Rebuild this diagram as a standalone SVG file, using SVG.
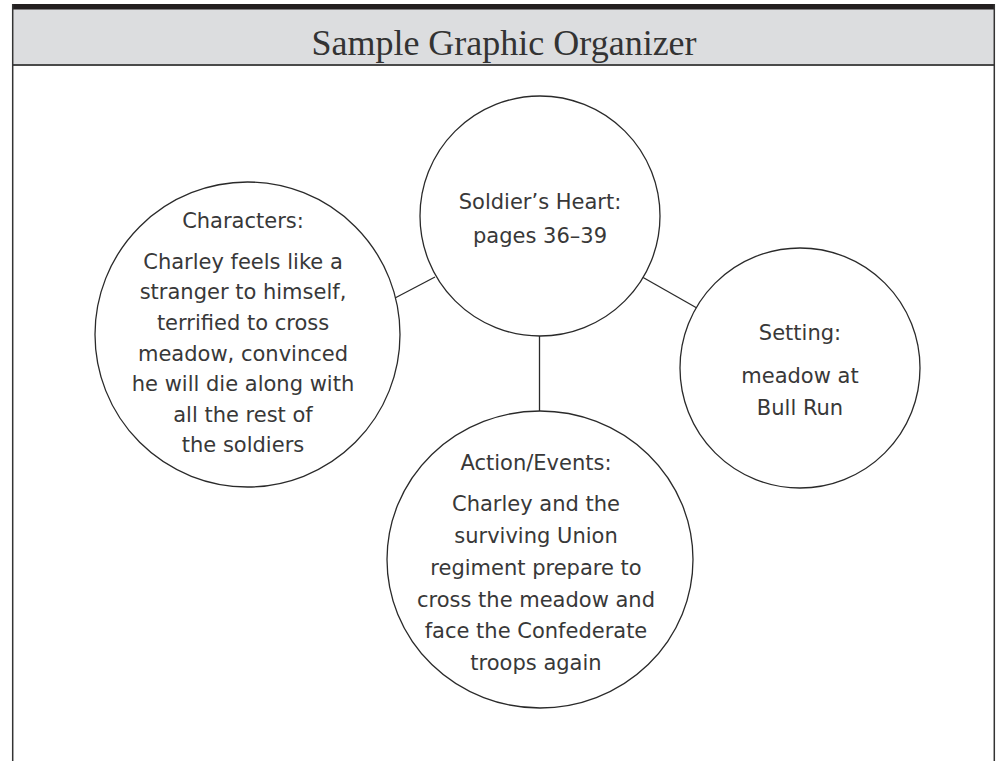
<svg xmlns="http://www.w3.org/2000/svg" width="998" height="761" viewBox="0 0 998 761">
  <style>
    .node { fill: #ffffff; stroke: #2a2a2a; stroke-width: 1.3; }
    .conn { stroke: #2a2a2a; stroke-width: 1.3; fill: none; }
    .txt { font-family: "DejaVu Sans", "Open Sans", sans-serif; font-size: 21px; fill: #383838; text-anchor: middle; }
    .title { font-family: "Liberation Serif", "Times New Roman", serif; font-size: 36px; fill: #333333; text-anchor: middle; }
  </style>
  <rect x="0" y="0" width="998" height="761" fill="#ffffff"/>
  <g id="frame">
    <rect x="12" y="9" width="983" height="56" fill="#dcdddf"/>
    <rect x="12" y="4" width="983" height="5.5" fill="#231f20"/>
    <line x1="12" y1="65" x2="995" y2="65" stroke="#4a4a4a" stroke-width="1.8"/>
    <line x1="12.7" y1="4" x2="12.7" y2="761" stroke="#333333" stroke-width="1.5"/>
    <line x1="994.3" y1="4" x2="994.3" y2="761" stroke="#333333" stroke-width="1.5"/>
    <text class="title" x="504" y="55">Sample Graphic Organizer</text>
  </g>
  <g id="connectors">
    <line class="conn" x1="395" y1="298" x2="435" y2="277"/>
    <line class="conn" x1="642.7" y1="277.3" x2="697.3" y2="308.3"/>
    <line class="conn" x1="539.5" y1="336" x2="539.5" y2="411"/>
  </g>
  <g id="center">
    <circle class="node" cx="540" cy="216" r="120"/>
    <text class="txt" x="540" y="209">Soldier’s Heart:</text>
    <text class="txt" x="540" y="243">pages 36–39</text>
  </g>
  <g id="characters">
    <circle class="node" cx="247.5" cy="334.5" r="152.5"/>
    <text class="txt" x="243" y="228">Characters:</text>
    <text class="txt" x="243" y="268.5">Charley feels like a</text>
    <text class="txt" x="243" y="299">stranger to himself,</text>
    <text class="txt" x="243" y="330">terrified to cross</text>
    <text class="txt" x="243" y="360.5">meadow, convinced</text>
    <text class="txt" x="243" y="391">he will die along with</text>
    <text class="txt" x="243" y="421.5">all the rest of</text>
    <text class="txt" x="243" y="451.5">the soldiers</text>
  </g>
  <g id="setting">
    <circle class="node" cx="800" cy="368" r="120"/>
    <text class="txt" x="800" y="340">Setting:</text>
    <text class="txt" x="800" y="383">meadow at</text>
    <text class="txt" x="800" y="415">Bull Run</text>
  </g>
  <g id="action">
    <ellipse class="node" cx="540" cy="559.5" rx="153" ry="148.5"/>
    <text class="txt" x="536" y="470">Action/Events:</text>
    <text class="txt" x="536" y="511">Charley and the</text>
    <text class="txt" x="536" y="543">surviving Union</text>
    <text class="txt" x="536" y="575">regiment prepare to</text>
    <text class="txt" x="536" y="607">cross the meadow and</text>
    <text class="txt" x="536" y="638">face the Confederate</text>
    <text class="txt" x="536" y="670">troops again</text>
  </g>
</svg>
